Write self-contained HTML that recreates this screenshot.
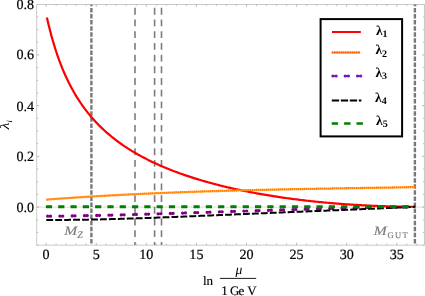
<!DOCTYPE html>
<html><head><meta charset="utf-8"><title>plot</title>
<style>html,body{margin:0;padding:0;background:#fff;}text.t{font-family:"Liberation Serif",serif;text-rendering:geometricPrecision;}svg{will-change:transform;}body{width:425px;height:296px;overflow:hidden;font-family:"Liberation Serif",serif;}</style>
</head><body>
<svg width="425" height="296" viewBox="0 0 425 296" style="display:block">
<rect width="425" height="296" fill="#fff"/>
<line x1="36.8" y1="207.1" x2="424.4" y2="207.1" stroke="#d0d0d0" stroke-width="0.8"/>
<rect x="36.8" y="4.4" width="387.59999999999997" height="240.7" fill="none" stroke="#a8a8a8" stroke-width="0.6"/>
<path d="M46.10,245.1 v-2.4 M46.10,4.4 v2.4 M56.12,245.1 v-1.4 M56.12,4.4 v1.4 M66.14,245.1 v-1.4 M66.14,4.4 v1.4 M76.16,245.1 v-1.4 M76.16,4.4 v1.4 M86.18,245.1 v-1.4 M86.18,4.4 v1.4 M96.20,245.1 v-2.4 M96.20,4.4 v2.4 M106.22,245.1 v-1.4 M106.22,4.4 v1.4 M116.24,245.1 v-1.4 M116.24,4.4 v1.4 M126.26,245.1 v-1.4 M126.26,4.4 v1.4 M136.28,245.1 v-1.4 M136.28,4.4 v1.4 M146.30,245.1 v-2.4 M146.30,4.4 v2.4 M156.32,245.1 v-1.4 M156.32,4.4 v1.4 M166.34,245.1 v-1.4 M166.34,4.4 v1.4 M176.36,245.1 v-1.4 M176.36,4.4 v1.4 M186.38,245.1 v-1.4 M186.38,4.4 v1.4 M196.40,245.1 v-2.4 M196.40,4.4 v2.4 M206.42,245.1 v-1.4 M206.42,4.4 v1.4 M216.44,245.1 v-1.4 M216.44,4.4 v1.4 M226.46,245.1 v-1.4 M226.46,4.4 v1.4 M236.48,245.1 v-1.4 M236.48,4.4 v1.4 M246.50,245.1 v-2.4 M246.50,4.4 v2.4 M256.52,245.1 v-1.4 M256.52,4.4 v1.4 M266.54,245.1 v-1.4 M266.54,4.4 v1.4 M276.56,245.1 v-1.4 M276.56,4.4 v1.4 M286.58,245.1 v-1.4 M286.58,4.4 v1.4 M296.60,245.1 v-2.4 M296.60,4.4 v2.4 M306.62,245.1 v-1.4 M306.62,4.4 v1.4 M316.64,245.1 v-1.4 M316.64,4.4 v1.4 M326.66,245.1 v-1.4 M326.66,4.4 v1.4 M336.68,245.1 v-1.4 M336.68,4.4 v1.4 M346.70,245.1 v-2.4 M346.70,4.4 v2.4 M356.72,245.1 v-1.4 M356.72,4.4 v1.4 M366.74,245.1 v-1.4 M366.74,4.4 v1.4 M376.76,245.1 v-1.4 M376.76,4.4 v1.4 M386.78,245.1 v-1.4 M386.78,4.4 v1.4 M396.80,245.1 v-2.4 M396.80,4.4 v2.4 M406.82,245.1 v-1.4 M406.82,4.4 v1.4 M416.84,245.1 v-1.4 M416.84,4.4 v1.4 M36.8,245.14 h1.4 M424.4,245.14 h-1.4 M36.8,232.46 h1.4 M424.4,232.46 h-1.4 M36.8,219.78 h1.4 M424.4,219.78 h-1.4 M36.8,207.10 h2.4 M424.4,207.10 h-2.4 M36.8,194.42 h1.4 M424.4,194.42 h-1.4 M36.8,181.74 h1.4 M424.4,181.74 h-1.4 M36.8,169.06 h1.4 M424.4,169.06 h-1.4 M36.8,156.38 h2.4 M424.4,156.38 h-2.4 M36.8,143.70 h1.4 M424.4,143.70 h-1.4 M36.8,131.02 h1.4 M424.4,131.02 h-1.4 M36.8,118.34 h1.4 M424.4,118.34 h-1.4 M36.8,105.66 h2.4 M424.4,105.66 h-2.4 M36.8,92.98 h1.4 M424.4,92.98 h-1.4 M36.8,80.30 h1.4 M424.4,80.30 h-1.4 M36.8,67.62 h1.4 M424.4,67.62 h-1.4 M36.8,54.94 h2.4 M424.4,54.94 h-2.4 M36.8,42.26 h1.4 M424.4,42.26 h-1.4 M36.8,29.58 h1.4 M424.4,29.58 h-1.4 M36.8,16.90 h1.4 M424.4,16.90 h-1.4" stroke="#a8a8a8" stroke-width="0.8" fill="none"/>
<line x1="91.4" y1="4.4" x2="91.4" y2="245.1" stroke="#787878" stroke-width="2.4" stroke-dasharray="4.5 1.58" stroke-dashoffset="2.58"/>
<line x1="414.9" y1="4.4" x2="414.9" y2="245.1" stroke="#787878" stroke-width="2.4" stroke-dasharray="4.5 1.58" stroke-dashoffset="2.58"/>
<line x1="135.0" y1="4.4" x2="135.0" y2="245.1" stroke="#7c7c7c" stroke-width="1.6" stroke-dasharray="6.83 4.88" stroke-dashoffset="8.31"/>
<line x1="154.6" y1="4.4" x2="154.6" y2="245.1" stroke="#7c7c7c" stroke-width="1.6" stroke-dasharray="6.83 4.88" stroke-dashoffset="8.31"/>
<line x1="161.5" y1="4.4" x2="161.5" y2="245.1" stroke="#7c7c7c" stroke-width="1.6" stroke-dasharray="6.83 4.88" stroke-dashoffset="8.31"/>
<path d="M46.90,17.52 L48.44,24.15 L49.98,30.34 L51.52,36.13 L53.07,41.57 L54.61,46.68 L56.15,51.50 L57.69,56.04 L59.23,60.35 L60.77,64.43 L62.31,68.30 L63.86,71.98 L65.40,75.49 L66.94,78.83 L68.48,82.03 L70.02,85.08 L71.56,88.00 L73.10,90.81 L74.65,93.50 L76.19,96.08 L77.73,98.56 L79.27,100.95 L80.81,103.26 L82.35,105.48 L83.89,107.62 L85.44,109.69 L86.98,111.70 L88.52,113.63 L90.06,115.51 L91.60,117.32 L93.14,119.08 L94.68,120.79 L96.23,122.45 L97.77,124.06 L99.31,125.62 L100.85,127.14 L102.39,128.62 L103.93,130.06 L105.47,131.47 L107.02,132.83 L108.56,134.16 L110.10,135.46 L111.64,136.73 L113.18,137.97 L114.72,139.17 L116.26,140.35 L117.81,141.50 L119.35,142.63 L120.89,143.73 L122.43,144.81 L123.97,145.86 L125.51,146.90 L127.05,147.91 L128.60,148.90 L130.14,149.87 L131.68,150.82 L133.22,151.75 L134.76,152.66 L136.30,153.56 L137.84,154.43 L139.39,155.30 L140.93,156.14 L142.47,156.97 L144.01,157.79 L145.55,158.59 L147.09,159.37 L148.63,160.15 L150.18,160.91 L151.72,161.65 L153.26,162.39 L154.80,163.11 L156.34,163.82 L157.88,164.52 L159.42,165.20 L160.97,165.88 L162.51,166.54 L164.05,167.19 L165.59,167.84 L167.13,168.47 L168.67,169.10 L170.21,169.71 L171.76,170.31 L173.30,170.91 L174.84,171.50 L176.38,172.07 L177.92,172.64 L179.46,173.20 L181.00,173.76 L182.55,174.30 L184.09,174.84 L185.63,175.37 L187.17,175.89 L188.71,176.40 L190.25,176.91 L191.79,177.41 L193.34,177.90 L194.88,178.39 L196.42,178.87 L197.96,179.34 L199.50,179.80 L201.04,180.26 L202.58,180.72 L204.13,181.16 L205.67,181.60 L207.21,182.04 L208.75,182.47 L210.29,182.89 L211.83,183.31 L213.37,183.72 L214.92,184.13 L216.46,184.53 L218.00,184.93 L219.54,185.32 L221.08,185.70 L222.62,186.08 L224.16,186.46 L225.71,186.83 L227.25,187.20 L228.79,187.56 L230.33,187.91 L231.87,188.26 L233.41,188.61 L234.95,188.95 L236.49,189.29 L238.04,189.62 L239.58,189.95 L241.12,190.28 L242.66,190.60 L244.20,190.91 L245.74,191.23 L247.28,191.53 L248.83,191.84 L250.37,192.14 L251.91,192.43 L253.45,192.72 L254.99,193.01 L256.53,193.30 L258.07,193.58 L259.62,193.85 L261.16,194.13 L262.70,194.39 L264.24,194.66 L265.78,194.92 L267.32,195.18 L268.86,195.43 L270.41,195.69 L271.95,195.93 L273.49,196.18 L275.03,196.42 L276.57,196.66 L278.11,196.89 L279.65,197.12 L281.20,197.35 L282.74,197.57 L284.28,197.79 L285.82,198.01 L287.36,198.22 L288.90,198.44 L290.44,198.64 L291.99,198.85 L293.53,199.05 L295.07,199.25 L296.61,199.45 L298.15,199.64 L299.69,199.83 L301.23,200.02 L302.78,200.20 L304.32,200.38 L305.86,200.56 L307.40,200.73 L308.94,200.91 L310.48,201.08 L312.02,201.24 L313.57,201.41 L315.11,201.57 L316.65,201.73 L318.19,201.88 L319.73,202.04 L321.27,202.19 L322.81,202.33 L324.36,202.48 L325.90,202.62 L327.44,202.76 L328.98,202.90 L330.52,203.03 L332.06,203.16 L333.60,203.29 L335.15,203.42 L336.69,203.54 L338.23,203.67 L339.77,203.78 L341.31,203.90 L342.85,204.02 L344.39,204.13 L345.94,204.24 L347.48,204.34 L349.02,204.45 L350.56,204.55 L352.10,204.65 L353.64,204.75 L355.18,204.84 L356.73,204.93 L358.27,205.02 L359.81,205.11 L361.35,205.19 L362.89,205.28 L364.43,205.36 L365.97,205.44 L367.52,205.51 L369.06,205.59 L370.60,205.66 L372.14,205.73 L373.68,205.79 L375.22,205.86 L376.76,205.92 L378.31,205.98 L379.85,206.04 L381.39,206.09 L382.93,206.15 L384.47,206.20 L386.01,206.25 L387.55,206.30 L389.10,206.34 L390.64,206.38 L392.18,206.42 L393.72,206.46 L395.26,206.50 L396.80,206.53 L398.34,206.57 L399.89,206.60 L401.43,206.62 L402.97,206.65 L404.51,206.67 L406.05,206.69 L407.59,206.71 L409.13,206.73 L410.68,206.75 L412.22,206.76 L413.76,206.77 L415.30,206.78" fill="none" stroke="#f00" stroke-width="2.2"/>
<path d="M46.30,199.64 L47.84,199.52 L49.39,199.40 L50.93,199.29 L52.48,199.17 L54.02,199.06 L55.56,198.94 L57.11,198.83 L58.65,198.72 L60.20,198.61 L61.74,198.50 L63.28,198.39 L64.83,198.28 L66.37,198.17 L67.92,198.07 L69.46,197.96 L71.00,197.86 L72.55,197.75 L74.09,197.65 L75.63,197.55 L77.18,197.44 L78.72,197.34 L80.27,197.24 L81.81,197.14 L83.35,197.04 L84.90,196.95 L86.44,196.85 L87.99,196.75 L89.53,196.66 L91.07,196.56 L92.62,196.47 L94.16,196.38 L95.71,196.28 L97.25,196.19 L98.79,196.10 L100.34,196.01 L101.88,195.92 L103.43,195.83 L104.97,195.75 L106.51,195.66 L108.06,195.57 L109.60,195.49 L111.15,195.40 L112.69,195.32 L114.23,195.23 L115.78,195.15 L117.32,195.07 L118.86,194.99 L120.41,194.91 L121.95,194.83 L123.50,194.75 L125.04,194.67 L126.58,194.59 L128.13,194.51 L129.67,194.44 L131.22,194.36 L132.76,194.28 L134.30,194.21 L135.85,194.14 L137.39,194.06 L138.94,193.99 L140.48,193.92 L142.02,193.85 L143.57,193.77 L145.11,193.70 L146.66,193.63 L148.20,193.57 L149.74,193.50 L151.29,193.43 L152.83,193.36 L154.38,193.29 L155.92,193.23 L157.46,193.16 L159.01,193.10 L160.55,193.03 L162.09,192.97 L163.64,192.91 L165.18,192.84 L166.73,192.78 L168.27,192.72 L169.81,192.66 L171.36,192.60 L172.90,192.54 L174.45,192.48 L175.99,192.42 L177.53,192.36 L179.08,192.31 L180.62,192.25 L182.17,192.19 L183.71,192.14 L185.25,192.08 L186.80,192.03 L188.34,191.97 L189.89,191.92 L191.43,191.86 L192.97,191.81 L194.52,191.76 L196.06,191.70 L197.61,191.65 L199.15,191.60 L200.69,191.55 L202.24,191.50 L203.78,191.45 L205.33,191.40 L206.87,191.35 L208.41,191.30 L209.96,191.26 L211.50,191.21 L213.04,191.16 L214.59,191.11 L216.13,191.07 L217.68,191.02 L219.22,190.98 L220.76,190.93 L222.31,190.89 L223.85,190.84 L225.40,190.80 L226.94,190.76 L228.48,190.71 L230.03,190.67 L231.57,190.63 L233.12,190.59 L234.66,190.54 L236.20,190.50 L237.75,190.46 L239.29,190.42 L240.84,190.38 L242.38,190.34 L243.92,190.30 L245.47,190.26 L247.01,190.23 L248.56,190.19 L250.10,190.15 L251.64,190.11 L253.19,190.07 L254.73,190.04 L256.27,190.00 L257.82,189.96 L259.36,189.93 L260.91,189.89 L262.45,189.86 L263.99,189.82 L265.54,189.79 L267.08,189.75 L268.63,189.72 L270.17,189.68 L271.71,189.65 L273.26,189.62 L274.80,189.58 L276.35,189.55 L277.89,189.52 L279.43,189.49 L280.98,189.45 L282.52,189.42 L284.07,189.39 L285.61,189.36 L287.15,189.33 L288.70,189.30 L290.24,189.26 L291.79,189.23 L293.33,189.20 L294.87,189.17 L296.42,189.14 L297.96,189.11 L299.51,189.08 L301.05,189.06 L302.59,189.03 L304.14,189.00 L305.68,188.97 L307.22,188.94 L308.77,188.91 L310.31,188.88 L311.86,188.85 L313.40,188.83 L314.94,188.80 L316.49,188.77 L318.03,188.74 L319.58,188.72 L321.12,188.69 L322.66,188.66 L324.21,188.63 L325.75,188.61 L327.30,188.58 L328.84,188.55 L330.38,188.53 L331.93,188.50 L333.47,188.47 L335.02,188.45 L336.56,188.42 L338.10,188.40 L339.65,188.37 L341.19,188.34 L342.74,188.32 L344.28,188.29 L345.82,188.27 L347.37,188.24 L348.91,188.22 L350.45,188.19 L352.00,188.16 L353.54,188.14 L355.09,188.11 L356.63,188.09 L358.17,188.06 L359.72,188.04 L361.26,188.01 L362.81,187.99 L364.35,187.96 L365.89,187.94 L367.44,187.91 L368.98,187.89 L370.53,187.86 L372.07,187.84 L373.61,187.81 L375.16,187.79 L376.70,187.76 L378.25,187.74 L379.79,187.71 L381.33,187.69 L382.88,187.66 L384.42,187.63 L385.97,187.61 L387.51,187.58 L389.05,187.56 L390.60,187.53 L392.14,187.51 L393.68,187.48 L395.23,187.46 L396.77,187.43 L398.32,187.40 L399.86,187.38 L401.40,187.35 L402.95,187.33 L404.49,187.30 L406.04,187.27 L407.58,187.25 L409.12,187.22 L410.67,187.19 L412.21,187.17 L413.76,187.14 L415.30,187.11" fill="none" stroke="#ffb868" stroke-width="1.3"/>
<path d="M46.30,199.64 L47.84,199.52 L49.39,199.40 L50.93,199.29 L52.48,199.17 L54.02,199.06 L55.56,198.94 L57.11,198.83 L58.65,198.72 L60.20,198.61 L61.74,198.50 L63.28,198.39 L64.83,198.28 L66.37,198.17 L67.92,198.07 L69.46,197.96 L71.00,197.86 L72.55,197.75 L74.09,197.65 L75.63,197.55 L77.18,197.44 L78.72,197.34 L80.27,197.24 L81.81,197.14 L83.35,197.04 L84.90,196.95 L86.44,196.85 L87.99,196.75 L89.53,196.66 L91.07,196.56 L92.62,196.47 L94.16,196.38 L95.71,196.28 L97.25,196.19 L98.79,196.10 L100.34,196.01 L101.88,195.92 L103.43,195.83 L104.97,195.75 L106.51,195.66 L108.06,195.57 L109.60,195.49 L111.15,195.40 L112.69,195.32 L114.23,195.23 L115.78,195.15 L117.32,195.07 L118.86,194.99 L120.41,194.91 L121.95,194.83 L123.50,194.75 L125.04,194.67 L126.58,194.59 L128.13,194.51 L129.67,194.44 L131.22,194.36 L132.76,194.28 L134.30,194.21 L135.85,194.14 L137.39,194.06 L138.94,193.99 L140.48,193.92 L142.02,193.85 L143.57,193.77 L145.11,193.70 L146.66,193.63 L148.20,193.57 L149.74,193.50 L151.29,193.43 L152.83,193.36 L154.38,193.29 L155.92,193.23 L157.46,193.16 L159.01,193.10 L160.55,193.03 L162.09,192.97 L163.64,192.91 L165.18,192.84 L166.73,192.78 L168.27,192.72 L169.81,192.66 L171.36,192.60 L172.90,192.54 L174.45,192.48 L175.99,192.42 L177.53,192.36 L179.08,192.31 L180.62,192.25 L182.17,192.19 L183.71,192.14 L185.25,192.08 L186.80,192.03 L188.34,191.97 L189.89,191.92 L191.43,191.86 L192.97,191.81 L194.52,191.76 L196.06,191.70 L197.61,191.65 L199.15,191.60 L200.69,191.55 L202.24,191.50 L203.78,191.45 L205.33,191.40 L206.87,191.35 L208.41,191.30 L209.96,191.26 L211.50,191.21 L213.04,191.16 L214.59,191.11 L216.13,191.07 L217.68,191.02 L219.22,190.98 L220.76,190.93 L222.31,190.89 L223.85,190.84 L225.40,190.80 L226.94,190.76 L228.48,190.71 L230.03,190.67 L231.57,190.63 L233.12,190.59 L234.66,190.54 L236.20,190.50 L237.75,190.46 L239.29,190.42 L240.84,190.38 L242.38,190.34 L243.92,190.30 L245.47,190.26 L247.01,190.23 L248.56,190.19 L250.10,190.15 L251.64,190.11 L253.19,190.07 L254.73,190.04 L256.27,190.00 L257.82,189.96 L259.36,189.93 L260.91,189.89 L262.45,189.86 L263.99,189.82 L265.54,189.79 L267.08,189.75 L268.63,189.72 L270.17,189.68 L271.71,189.65 L273.26,189.62 L274.80,189.58 L276.35,189.55 L277.89,189.52 L279.43,189.49 L280.98,189.45 L282.52,189.42 L284.07,189.39 L285.61,189.36 L287.15,189.33 L288.70,189.30 L290.24,189.26 L291.79,189.23 L293.33,189.20 L294.87,189.17 L296.42,189.14 L297.96,189.11 L299.51,189.08 L301.05,189.06 L302.59,189.03 L304.14,189.00 L305.68,188.97 L307.22,188.94 L308.77,188.91 L310.31,188.88 L311.86,188.85 L313.40,188.83 L314.94,188.80 L316.49,188.77 L318.03,188.74 L319.58,188.72 L321.12,188.69 L322.66,188.66 L324.21,188.63 L325.75,188.61 L327.30,188.58 L328.84,188.55 L330.38,188.53 L331.93,188.50 L333.47,188.47 L335.02,188.45 L336.56,188.42 L338.10,188.40 L339.65,188.37 L341.19,188.34 L342.74,188.32 L344.28,188.29 L345.82,188.27 L347.37,188.24 L348.91,188.22 L350.45,188.19 L352.00,188.16 L353.54,188.14 L355.09,188.11 L356.63,188.09 L358.17,188.06 L359.72,188.04 L361.26,188.01 L362.81,187.99 L364.35,187.96 L365.89,187.94 L367.44,187.91 L368.98,187.89 L370.53,187.86 L372.07,187.84 L373.61,187.81 L375.16,187.79 L376.70,187.76 L378.25,187.74 L379.79,187.71 L381.33,187.69 L382.88,187.66 L384.42,187.63 L385.97,187.61 L387.51,187.58 L389.05,187.56 L390.60,187.53 L392.14,187.51 L393.68,187.48 L395.23,187.46 L396.77,187.43 L398.32,187.40 L399.86,187.38 L401.40,187.35 L402.95,187.33 L404.49,187.30 L406.04,187.27 L407.58,187.25 L409.12,187.22 L410.67,187.19 L412.21,187.17 L413.76,187.14 L415.30,187.11" fill="none" stroke="#ff7f00" stroke-width="2.3" stroke-dasharray="1.5 0.5"/>
<path d="M47.60,216.20 L49.14,216.19 L50.68,216.18 L52.22,216.17 L53.75,216.16 L55.29,216.14 L56.83,216.13 L58.37,216.11 L59.91,216.10 L61.45,216.08 L62.98,216.07 L64.52,216.05 L66.06,216.03 L67.60,216.02 L69.14,216.00 L70.68,215.98 L72.22,215.95 L73.75,215.92 L75.29,215.89 L76.83,215.86 L78.37,215.83 L79.91,215.80 L81.45,215.77 L82.99,215.74 L84.52,215.71 L86.06,215.68 L87.60,215.64 L89.14,215.61 L90.68,215.58 L92.22,215.54 L93.75,215.51 L95.29,215.48 L96.83,215.44 L98.37,215.41 L99.91,215.37 L101.45,215.33 L102.99,215.30 L104.52,215.26 L106.06,215.23 L107.60,215.19 L109.14,215.15 L110.68,215.12 L112.22,215.08 L113.76,215.04 L115.29,215.00 L116.83,214.96 L118.37,214.93 L119.91,214.89 L121.45,214.85 L122.99,214.81 L124.52,214.77 L126.06,214.73 L127.60,214.68 L129.14,214.64 L130.68,214.60 L132.22,214.56 L133.76,214.52 L135.29,214.48 L136.83,214.43 L138.37,214.39 L139.91,214.35 L141.45,214.30 L142.99,214.26 L144.53,214.22 L146.06,214.17 L147.60,214.13 L149.14,214.08 L150.68,214.04 L152.22,213.99 L153.76,213.95 L155.29,213.90 L156.83,213.86 L158.37,213.81 L159.91,213.76 L161.45,213.72 L162.99,213.67 L164.53,213.62 L166.06,213.58 L167.60,213.53 L169.14,213.48 L170.68,213.43 L172.22,213.39 L173.76,213.34 L175.29,213.29 L176.83,213.24 L178.37,213.19 L179.91,213.15 L181.45,213.10 L182.99,213.05 L184.53,213.00 L186.06,212.95 L187.60,212.90 L189.14,212.85 L190.68,212.80 L192.22,212.75 L193.76,212.70 L195.30,212.66 L196.83,212.61 L198.37,212.56 L199.91,212.51 L201.45,212.46 L202.99,212.41 L204.53,212.36 L206.06,212.31 L207.60,212.26 L209.14,212.21 L210.68,212.16 L212.22,212.10 L213.76,212.05 L215.30,212.00 L216.83,211.95 L218.37,211.90 L219.91,211.85 L221.45,211.80 L222.99,211.75 L224.53,211.70 L226.07,211.65 L227.60,211.60 L229.14,211.55 L230.68,211.50 L232.22,211.45 L233.76,211.40 L235.30,211.35 L236.83,211.30 L238.37,211.25 L239.91,211.20 L241.45,211.15 L242.99,211.10 L244.53,211.05 L246.07,211.00 L247.60,210.95 L249.14,210.90 L250.68,210.85 L252.22,210.80 L253.76,210.75 L255.30,210.70 L256.84,210.65 L258.37,210.60 L259.91,210.55 L261.45,210.50 L262.99,210.45 L264.53,210.40 L266.07,210.36 L267.60,210.31 L269.14,210.26 L270.68,210.21 L272.22,210.16 L273.76,210.11 L275.30,210.07 L276.84,210.02 L278.37,209.97 L279.91,209.92 L281.45,209.88 L282.99,209.83 L284.53,209.78 L286.07,209.74 L287.61,209.69 L289.14,209.64 L290.68,209.60 L292.22,209.55 L293.76,209.51 L295.30,209.46 L296.84,209.41 L298.37,209.37 L299.91,209.33 L301.45,209.28 L302.99,209.24 L304.53,209.19 L306.07,209.15 L307.61,209.11 L309.14,209.06 L310.68,209.02 L312.22,208.98 L313.76,208.93 L315.30,208.89 L316.84,208.85 L318.37,208.81 L319.91,208.77 L321.45,208.73 L322.99,208.69 L324.53,208.65 L326.07,208.61 L327.61,208.57 L329.14,208.53 L330.68,208.49 L332.22,208.45 L333.76,208.41 L335.30,208.37 L336.84,208.34 L338.38,208.30 L339.91,208.26 L341.45,208.22 L342.99,208.19 L344.53,208.15 L346.07,208.12 L347.61,208.08 L349.14,208.05 L350.68,208.01 L352.22,207.98 L353.76,207.95 L355.30,207.91 L356.84,207.88 L358.38,207.85 L359.91,207.82 L361.45,207.78 L362.99,207.75 L364.53,207.72 L366.07,207.69 L367.61,207.66 L369.15,207.63 L370.68,207.61 L372.22,207.58 L373.76,207.55 L375.30,207.52 L376.84,207.49 L378.38,207.47 L379.91,207.44 L381.45,207.42 L382.99,207.39 L384.53,207.37 L386.07,207.34 L387.61,207.32 L389.15,207.30 L390.68,207.28 L392.22,207.25 L393.76,207.23 L395.30,207.21 L396.84,207.19 L398.38,207.17 L399.92,207.15 L401.45,207.13 L402.99,207.12 L404.53,207.10 L406.07,207.08 L407.61,207.06 L409.15,207.05 L410.68,207.03 L412.22,207.02 L413.76,207.00 L415.30,206.99" fill="none" stroke="#800088" stroke-width="3.2" stroke-linecap="round" stroke-dasharray="0.01 2.9 0.01 9.35"/>
<path d="M47.60,216.20 L49.14,216.19 L50.68,216.18 L52.22,216.17 L53.75,216.16 L55.29,216.14 L56.83,216.13 L58.37,216.11 L59.91,216.10 L61.45,216.08 L62.98,216.07 L64.52,216.05 L66.06,216.03 L67.60,216.02 L69.14,216.00 L70.68,215.98 L72.22,215.95 L73.75,215.92 L75.29,215.89 L76.83,215.86 L78.37,215.83 L79.91,215.80 L81.45,215.77 L82.99,215.74 L84.52,215.71 L86.06,215.68 L87.60,215.64 L89.14,215.61 L90.68,215.58 L92.22,215.54 L93.75,215.51 L95.29,215.48 L96.83,215.44 L98.37,215.41 L99.91,215.37 L101.45,215.33 L102.99,215.30 L104.52,215.26 L106.06,215.23 L107.60,215.19 L109.14,215.15 L110.68,215.12 L112.22,215.08 L113.76,215.04 L115.29,215.00 L116.83,214.96 L118.37,214.93 L119.91,214.89 L121.45,214.85 L122.99,214.81 L124.52,214.77 L126.06,214.73 L127.60,214.68 L129.14,214.64 L130.68,214.60 L132.22,214.56 L133.76,214.52 L135.29,214.48 L136.83,214.43 L138.37,214.39 L139.91,214.35 L141.45,214.30 L142.99,214.26 L144.53,214.22 L146.06,214.17 L147.60,214.13 L149.14,214.08 L150.68,214.04 L152.22,213.99 L153.76,213.95 L155.29,213.90 L156.83,213.86 L158.37,213.81 L159.91,213.76 L161.45,213.72 L162.99,213.67 L164.53,213.62 L166.06,213.58 L167.60,213.53 L169.14,213.48 L170.68,213.43 L172.22,213.39 L173.76,213.34 L175.29,213.29 L176.83,213.24 L178.37,213.19 L179.91,213.15 L181.45,213.10 L182.99,213.05 L184.53,213.00 L186.06,212.95 L187.60,212.90 L189.14,212.85 L190.68,212.80 L192.22,212.75 L193.76,212.70 L195.30,212.66 L196.83,212.61 L198.37,212.56 L199.91,212.51 L201.45,212.46 L202.99,212.41 L204.53,212.36 L206.06,212.31 L207.60,212.26 L209.14,212.21 L210.68,212.16 L212.22,212.10 L213.76,212.05 L215.30,212.00 L216.83,211.95 L218.37,211.90 L219.91,211.85 L221.45,211.80 L222.99,211.75 L224.53,211.70 L226.07,211.65 L227.60,211.60 L229.14,211.55 L230.68,211.50 L232.22,211.45 L233.76,211.40 L235.30,211.35 L236.83,211.30 L238.37,211.25 L239.91,211.20 L241.45,211.15 L242.99,211.10 L244.53,211.05 L246.07,211.00 L247.60,210.95 L249.14,210.90 L250.68,210.85 L252.22,210.80 L253.76,210.75 L255.30,210.70 L256.84,210.65 L258.37,210.60 L259.91,210.55 L261.45,210.50 L262.99,210.45 L264.53,210.40 L266.07,210.36 L267.60,210.31 L269.14,210.26 L270.68,210.21 L272.22,210.16 L273.76,210.11 L275.30,210.07 L276.84,210.02 L278.37,209.97 L279.91,209.92 L281.45,209.88 L282.99,209.83 L284.53,209.78 L286.07,209.74 L287.61,209.69 L289.14,209.64 L290.68,209.60 L292.22,209.55 L293.76,209.51 L295.30,209.46 L296.84,209.41 L298.37,209.37 L299.91,209.33 L301.45,209.28 L302.99,209.24 L304.53,209.19 L306.07,209.15 L307.61,209.11 L309.14,209.06 L310.68,209.02 L312.22,208.98 L313.76,208.93 L315.30,208.89 L316.84,208.85 L318.37,208.81 L319.91,208.77 L321.45,208.73 L322.99,208.69 L324.53,208.65 L326.07,208.61 L327.61,208.57 L329.14,208.53 L330.68,208.49 L332.22,208.45 L333.76,208.41 L335.30,208.37 L336.84,208.34 L338.38,208.30 L339.91,208.26 L341.45,208.22 L342.99,208.19 L344.53,208.15 L346.07,208.12 L347.61,208.08 L349.14,208.05 L350.68,208.01 L352.22,207.98 L353.76,207.95 L355.30,207.91 L356.84,207.88 L358.38,207.85 L359.91,207.82 L361.45,207.78 L362.99,207.75 L364.53,207.72 L366.07,207.69 L367.61,207.66 L369.15,207.63 L370.68,207.61 L372.22,207.58 L373.76,207.55 L375.30,207.52 L376.84,207.49 L378.38,207.47 L379.91,207.44 L381.45,207.42 L382.99,207.39 L384.53,207.37 L386.07,207.34 L387.61,207.32 L389.15,207.30 L390.68,207.28 L392.22,207.25 L393.76,207.23 L395.30,207.21 L396.84,207.19 L398.38,207.17 L399.92,207.15 L401.45,207.13 L402.99,207.12 L404.53,207.10 L406.07,207.08 L407.61,207.06 L409.15,207.05 L410.68,207.03 L412.22,207.02 L413.76,207.00 L415.30,206.99" fill="none" stroke="#800088" stroke-width="2.2" stroke-dasharray="2.92 9.35"/>
<path d="M46.30,219.92 L47.84,219.92 L49.39,219.93 L50.93,219.93 L52.48,219.94 L54.02,219.94 L55.56,219.94 L57.11,219.94 L58.65,219.93 L60.20,219.93 L61.74,219.92 L63.28,219.92 L64.83,219.91 L66.37,219.90 L67.92,219.89 L69.46,219.87 L71.00,219.86 L72.55,219.85 L74.09,219.83 L75.63,219.81 L77.18,219.79 L78.72,219.77 L80.27,219.75 L81.81,219.73 L83.35,219.71 L84.90,219.68 L86.44,219.66 L87.99,219.63 L89.53,219.60 L91.07,219.57 L92.62,219.54 L94.16,219.51 L95.71,219.48 L97.25,219.45 L98.79,219.42 L100.34,219.38 L101.88,219.35 L103.43,219.31 L104.97,219.27 L106.51,219.24 L108.06,219.20 L109.60,219.16 L111.15,219.12 L112.69,219.08 L114.23,219.03 L115.78,218.99 L117.32,218.95 L118.86,218.90 L120.41,218.86 L121.95,218.81 L123.50,218.77 L125.04,218.72 L126.58,218.67 L128.13,218.62 L129.67,218.57 L131.22,218.53 L132.76,218.48 L134.30,218.42 L135.85,218.37 L137.39,218.32 L138.94,218.27 L140.48,218.22 L142.02,218.16 L143.57,218.11 L145.11,218.05 L146.66,218.00 L148.20,217.94 L149.74,217.89 L151.29,217.83 L152.83,217.78 L154.38,217.72 L155.92,217.66 L157.46,217.60 L159.01,217.55 L160.55,217.49 L162.09,217.43 L163.64,217.37 L165.18,217.31 L166.73,217.25 L168.27,217.19 L169.81,217.13 L171.36,217.07 L172.90,217.01 L174.45,216.95 L175.99,216.88 L177.53,216.82 L179.08,216.76 L180.62,216.70 L182.17,216.64 L183.71,216.57 L185.25,216.51 L186.80,216.45 L188.34,216.38 L189.89,216.32 L191.43,216.26 L192.97,216.19 L194.52,216.13 L196.06,216.06 L197.61,216.00 L199.15,215.94 L200.69,215.87 L202.24,215.81 L203.78,215.74 L205.33,215.68 L206.87,215.61 L208.41,215.55 L209.96,215.48 L211.50,215.42 L213.04,215.35 L214.59,215.29 L216.13,215.22 L217.68,215.15 L219.22,215.09 L220.76,215.02 L222.31,214.96 L223.85,214.89 L225.40,214.83 L226.94,214.76 L228.48,214.70 L230.03,214.63 L231.57,214.56 L233.12,214.50 L234.66,214.43 L236.20,214.37 L237.75,214.30 L239.29,214.24 L240.84,214.17 L242.38,214.11 L243.92,214.04 L245.47,213.97 L247.01,213.91 L248.56,213.84 L250.10,213.78 L251.64,213.71 L253.19,213.65 L254.73,213.58 L256.27,213.52 L257.82,213.45 L259.36,213.39 L260.91,213.32 L262.45,213.26 L263.99,213.19 L265.54,213.13 L267.08,213.06 L268.63,213.00 L270.17,212.93 L271.71,212.87 L273.26,212.80 L274.80,212.74 L276.35,212.68 L277.89,212.61 L279.43,212.55 L280.98,212.48 L282.52,212.42 L284.07,212.36 L285.61,212.29 L287.15,212.23 L288.70,212.16 L290.24,212.10 L291.79,212.04 L293.33,211.97 L294.87,211.91 L296.42,211.85 L297.96,211.78 L299.51,211.72 L301.05,211.66 L302.59,211.59 L304.14,211.53 L305.68,211.47 L307.22,211.40 L308.77,211.34 L310.31,211.28 L311.86,211.21 L313.40,211.15 L314.94,211.09 L316.49,211.02 L318.03,210.96 L319.58,210.90 L321.12,210.83 L322.66,210.77 L324.21,210.71 L325.75,210.65 L327.30,210.58 L328.84,210.52 L330.38,210.46 L331.93,210.39 L333.47,210.33 L335.02,210.27 L336.56,210.20 L338.10,210.14 L339.65,210.08 L341.19,210.01 L342.74,209.95 L344.28,209.89 L345.82,209.82 L347.37,209.76 L348.91,209.70 L350.45,209.63 L352.00,209.57 L353.54,209.51 L355.09,209.44 L356.63,209.38 L358.17,209.31 L359.72,209.25 L361.26,209.18 L362.81,209.12 L364.35,209.05 L365.89,208.99 L367.44,208.92 L368.98,208.86 L370.53,208.79 L372.07,208.73 L373.61,208.66 L375.16,208.59 L376.70,208.53 L378.25,208.46 L379.79,208.39 L381.33,208.33 L382.88,208.26 L384.42,208.19 L385.97,208.12 L387.51,208.05 L389.05,207.98 L390.60,207.92 L392.14,207.85 L393.68,207.78 L395.23,207.71 L396.77,207.64 L398.32,207.56 L399.86,207.49 L401.40,207.42 L402.95,207.35 L404.49,207.28 L406.04,207.20 L407.58,207.13 L409.12,207.06 L410.67,206.98 L412.21,206.91 L413.76,206.83 L415.30,206.76" fill="none" stroke="#000" stroke-width="2.0" stroke-dasharray="6.85 2.095"/>
<path d="M45.9,206.75 L414.0,206.75" fill="none" stroke="#008000" stroke-width="3.0" stroke-dasharray="6.2 6.1"/>
<text x="46.10" y="259.2" class="t" font-size="14.1" text-anchor="middle" fill="#000" stroke="#000" stroke-width="0.2">0</text>
<text x="96.20" y="259.2" class="t" font-size="14.1" text-anchor="middle" fill="#000" stroke="#000" stroke-width="0.2">5</text>
<text x="146.30" y="259.2" class="t" font-size="14.1" text-anchor="middle" fill="#000" stroke="#000" stroke-width="0.2">10</text>
<text x="196.40" y="259.2" class="t" font-size="14.1" text-anchor="middle" fill="#000" stroke="#000" stroke-width="0.2">15</text>
<text x="246.50" y="259.2" class="t" font-size="14.1" text-anchor="middle" fill="#000" stroke="#000" stroke-width="0.2">20</text>
<text x="296.60" y="259.2" class="t" font-size="14.1" text-anchor="middle" fill="#000" stroke="#000" stroke-width="0.2">25</text>
<text x="346.70" y="259.2" class="t" font-size="14.1" text-anchor="middle" fill="#000" stroke="#000" stroke-width="0.2">30</text>
<text x="396.80" y="259.2" class="t" font-size="14.1" text-anchor="middle" fill="#000" stroke="#000" stroke-width="0.2">35</text>
<text x="34.0" y="211.6" class="t" font-size="14.1" text-anchor="end" fill="#000" stroke="#000" stroke-width="0.2">0.0</text>
<text x="34.0" y="161.0" class="t" font-size="14.1" text-anchor="end" fill="#000" stroke="#000" stroke-width="0.2">0.2</text>
<text x="34.0" y="110.6" class="t" font-size="14.1" text-anchor="end" fill="#000" stroke="#000" stroke-width="0.2">0.4</text>
<text x="34.0" y="59.4" class="t" font-size="14.1" text-anchor="end" fill="#000" stroke="#000" stroke-width="0.2">0.6</text>
<text x="34.0" y="9.0" class="t" font-size="14.1" text-anchor="end" fill="#000" stroke="#000" stroke-width="0.2">0.8</text>
<text transform="translate(9.3,129.6) rotate(-90) scale(1.22,1)" class="t" font-size="13" font-style="italic" fill="#000">λ<tspan font-size="8" dy="2.2">i</tspan></text>
<text x="202.9" y="284.9" class="t" font-size="13" fill="#000" stroke="#000" stroke-width="0.15">ln</text>
<line x1="219.8" y1="278.4" x2="256.2" y2="278.4" stroke="#000" stroke-width="0.9"/>
<text x="238.9" y="273.5" class="t" font-size="13.6" font-style="italic" text-anchor="middle" fill="#000">μ</text>
<text y="295" class="t" font-size="13" fill="#000" stroke="#000" stroke-width="0.15"><tspan x="221.3">1</tspan><tspan x="230.0">G</tspan><tspan x="238.5">e</tspan><tspan x="247.3">V</tspan></text>
<text transform="translate(64.2,234.6) scale(1.2,1)" class="t" font-size="13" font-style="italic" fill="#7c7c7c" stroke="#7c7c7c" stroke-width="0.15">M</text>
<text x="77.3" y="237.5" class="t" font-size="10" font-style="italic" fill="#7c7c7c" stroke="#7c7c7c" stroke-width="0.15">Z</text>
<text transform="translate(373.7,234.8) scale(1.2,1)" class="t" font-size="13" font-style="italic" fill="#7c7c7c" stroke="#7c7c7c" stroke-width="0.15">M</text>
<text x="387.4" y="237.6" class="t" font-size="8.5" fill="#7c7c7c" stroke="#7c7c7c" stroke-width="0.15" textLength="20.4" lengthAdjust="spacing">GUT</text>
<rect x="320.6" y="19.1" width="81.5" height="117.3" fill="#fff" stroke="#000" stroke-width="2"/>
<line x1="332" y1="32" x2="360.8" y2="32" stroke="#f00" stroke-width="2"/>
<line x1="331.8" y1="52.5" x2="360.2" y2="52.5" stroke="#ffa060" stroke-width="1.7"/>
<line x1="331.8" y1="52.5" x2="360.2" y2="52.5" stroke="#ff5c00" stroke-width="2.0" stroke-dasharray="1.7 0.5"/>
<line x1="332.9" y1="76" x2="362" y2="76" stroke="#7a14c0" stroke-width="3.2" stroke-linecap="round" stroke-dasharray="0.01 3.2 0.01 9.08"/>
<line x1="332.9" y1="76" x2="362" y2="76" stroke="#7a14c0" stroke-width="2.0" stroke-dasharray="3.22 9.08"/>
<line x1="331.8" y1="100.5" x2="361.4" y2="100.5" stroke="#000" stroke-width="2" stroke-dasharray="7.3 1.7"/>
<line x1="331.7" y1="123.5" x2="363" y2="123.5" stroke="#008000" stroke-width="2.6" stroke-dasharray="6.4 6"/>
<text x="375.9" y="34.5" class="t" font-size="13.5" font-weight="bold" fill="#000">λ<tspan font-size="10" dy="2.5">1</tspan></text>
<text x="375.4" y="54.3" class="t" font-size="13.5" font-weight="bold" fill="#000">λ<tspan font-size="10" dy="2.5">2</tspan></text>
<text x="375.4" y="76.7" class="t" font-size="13.5" font-weight="bold" fill="#000">λ<tspan font-size="10" dy="2.5">3</tspan></text>
<text x="375.0" y="101.5" class="t" font-size="13.5" font-weight="bold" fill="#000">λ<tspan font-size="10" dy="2.5">4</tspan></text>
<text x="376.0" y="124.8" class="t" font-size="13.5" font-weight="bold" fill="#000">λ<tspan font-size="10" dy="2.5">5</tspan></text>
</svg>
</body></html>
